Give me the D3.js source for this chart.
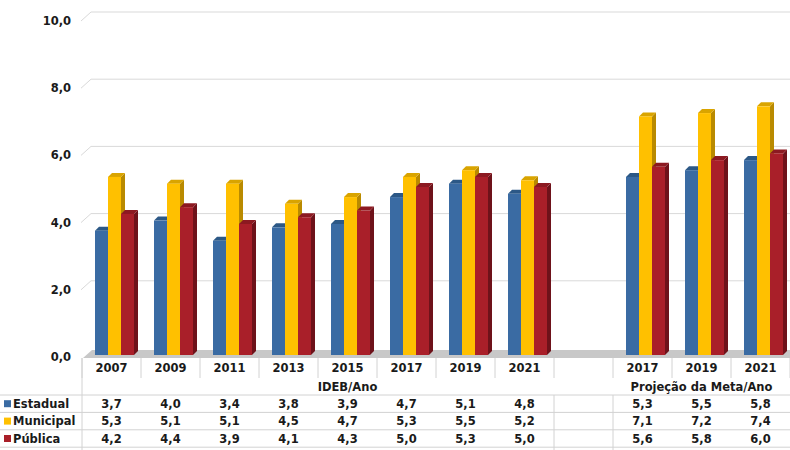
<!DOCTYPE html>
<html><head><meta charset="utf-8">
<script src="https://cdn.jsdelivr.net/npm/d3@7"></script>
<style>
body{margin:0;background:#fff}
text{font-family:"DejaVu Sans",Verdana,sans-serif;font-weight:bold;fill:#1a1a1a}
</style>
</head><body><svg id="c" width="790" height="450"></svg>
<script>
const categories = ["2007","2009","2011","2013","2015","2017","2019","2021","","2017","2019","2021"];
const estadual  = [3.7,4.0,3.4,3.8,3.9,4.7,5.1,4.8,null,5.3,5.5,5.8];
const municipal = [5.3,5.1,5.1,4.5,4.7,5.3,5.5,5.2,null,7.1,7.2,7.4];
const publica   = [4.2,4.4,3.9,4.1,4.3,5.0,5.3,5.0,null,5.6,5.8,6.0];
const seriesNames = ["Estadual","Municipal","Pública"];
const yTicks = [0,2,4,6,8,10];
const groupLabels = ["IDEB/Ano","Projeção da Meta/Ano"];
const groupFirst = [0,9];   // first category index of each group
const groupLast  = [8,11];  // last category index of each group

const series = [estadual, municipal, publica];
const frontColors = ["#3A6BA3","#FFC000","#A91F29"];
const sideColors  = ["#244a75","#b98a00","#6e121a"];
const topColors   = ["#2c5886","#d9a400","#8c1921"];
const fmt = v => d3.format(".1f")(v).replace(".", ",");

const svg = d3.select("#c");
const W = 790, left = 82;
const x = d3.scaleBand().domain(d3.range(categories.length)).range([left, W]);
const yLab = d3.scaleLinear().domain([0,10]).range([357,21]);
const yBar = d3.scaleLinear().domain([0,10]).range([355,19]);
const sub = d3.scaleBand().domain(d3.range(series.length)).range([0,39]);
const D = 4, BACK = 9;
const grid = "#d9d9d9", tline = "#d2d2d2";

// gridlines (back wall) with perspective diagonals
const g = svg.append("g");
yTicks.filter(t => t > 0).forEach(t => {
  const yf = yLab(t), yb = yf - BACK;
  g.append("line").attr("x1", left + BACK).attr("x2", W).attr("y1", yb).attr("y2", yb)
    .attr("stroke", grid).attr("stroke-width", 1);
  g.append("line").attr("x1", left - 1).attr("y1", yf).attr("x2", left + BACK).attr("y2", yb)
    .attr("stroke", grid).attr("stroke-width", 1);
});

// floor
svg.append("polygon")
  .attr("points", [[left+1, yLab(0)+1],[left+BACK+1, yLab(0)-BACK+2],[W, yLab(0)-BACK+2],[W, yLab(0)+1]].map(p=>p.join(",")).join(" "))
  .attr("fill", "#c8c8c8");

// y labels
svg.append("g").selectAll("text").data(yTicks).join("text")
  .attr("x", 71).attr("y", d => yLab(d)).attr("dy", "0.35em")
  .attr("text-anchor", "end").attr("font-size", 11.5).text(d => fmt(d));

// bars
const bars = svg.append("g");
categories.forEach((c, i) => {
  series.forEach((s, k) => {
    const v = s[i];
    if (v == null) return;
    const x0 = x(i) + 13 + sub(k), w = sub.bandwidth();
    const yt = yBar(v), yb = yBar(0);
    bars.append("polygon")
      .attr("points", [[x0+w,yt],[x0+w+D,yt-D],[x0+w+D,yb-D],[x0+w,yb]].map(p=>p.join(",")).join(" "))
      .attr("fill", sideColors[k]);
    bars.append("polygon")
      .attr("points", [[x0,yt],[x0+D,yt-D],[x0+w+D,yt-D],[x0+w,yt]].map(p=>p.join(",")).join(" "))
      .attr("fill", topColors[k]);
    bars.append("rect").attr("x", x0).attr("y", yt).attr("width", w).attr("height", yb - yt)
      .attr("fill", frontColors[k]);
  });
});

// table
const t = svg.append("g");
const rowTop = 358, yearBottom = 378, dataTop = 395, rowH = 17.4;
// year row verticals
d3.range(categories.length + 1).forEach(i => {
  const xx = i < categories.length ? x(i) : W;
  t.append("line").attr("x1", xx).attr("x2", xx).attr("y1", rowTop).attr("y2", yearBottom)
    .attr("stroke", tline);
});
// data rows verticals (group boundaries)
[left, x(groupLast[0]), x(groupFirst[1])].forEach(xx => {
  t.append("line").attr("x1", xx).attr("x2", xx).attr("y1", xx === left ? rowTop : dataTop).attr("y2", 450)
    .attr("stroke", tline);
});
// horizontal lines
d3.range(4).forEach(r => {
  const yy = dataTop + r * rowH;
  t.append("line").attr("x1", 0).attr("x2", W).attr("y1", yy).attr("y2", yy).attr("stroke", tline);
});
// year labels
t.selectAll("text.yr").data(categories).join("text").attr("class","yr")
  .attr("x", (d,i) => x(i) + x.bandwidth()/2).attr("y", 368).attr("dy","0.35em")
  .attr("text-anchor","middle").attr("font-size", 11.5).text(d => d);
// group labels
groupLabels.forEach((lab, gi) => {
  const x1 = x(groupFirst[gi]), x2 = groupLast[gi] === categories.length - 1 ? W : x(groupLast[gi]) + x.bandwidth();
  t.append("text").attr("x", (x1 + x2)/2).attr("y", 387).attr("dy","0.35em")
    .attr("text-anchor","middle").attr("font-size", 11.5).text(lab);
});
// data rows
series.forEach((s, k) => {
  const cy = dataTop + rowH * k + rowH/2;
  t.append("rect").attr("x", 4).attr("y", cy - 3.5).attr("width", 7).attr("height", 7).attr("fill", frontColors[k]);
  t.append("text").attr("x", 13).attr("y", cy).attr("dy","0.35em").attr("font-size", 11.5).text(seriesNames[k]);
  s.forEach((v, i) => {
    if (v == null) return;
    t.append("text").attr("x", x(i) + x.bandwidth()/2).attr("y", cy).attr("dy","0.35em")
      .attr("text-anchor","middle").attr("font-size", 11.5).text(fmt(v));
  });
});
</script>
</body></html>
